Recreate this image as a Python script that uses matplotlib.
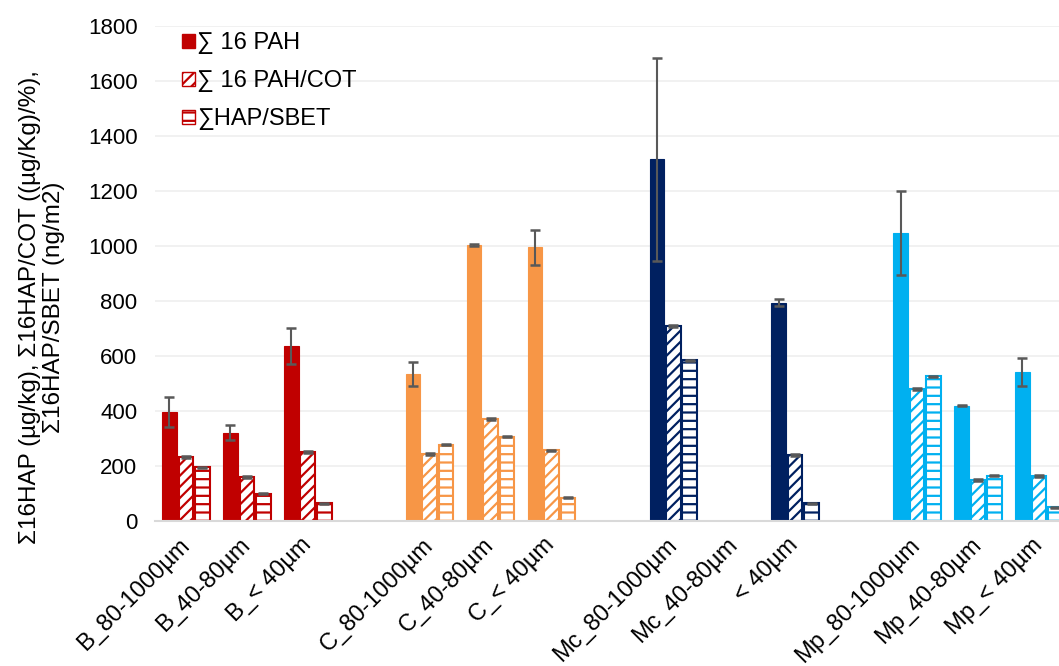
import matplotlib.pyplot as plt
import numpy as np
from matplotlib.patches import Patch

plt.rcParams['font.family'] = ['Liberation Sans', 'DejaVu Sans']
plt.rcParams['hatch.linewidth'] = 1.6

# categories (blank slots separate the sample groups)
categorias = ['B_80-1000µm', 'B_40-80µm', 'B_< 40µm', '',
              'C_80-1000µm', 'C_40-80µm', 'C_< 40µm', '',
              'Mc_80-1000µm', 'Mc_40-80µm', '< 40µm', '',
              'Mp_80-1000µm', 'Mp_40-80µm', 'Mp_< 40µm']
nan = np.nan
pah = [397, 321, 637, nan, 535, 1004, 995, nan, 1315, nan, 794, nan, 1046, 419, 541]
pah_err = [55, 28, 66, nan, 43, 3, 63, nan, 368, nan, 12, nan, 153, 2, 50]
pah_cot = [232, 160, 251, nan, 244, 370, 257, nan, 710, nan, 240, nan, 480, 149, 164]
pah_cot_err = [3, 3, 3, nan, 3, 3, 3, nan, 3, nan, 3, nan, 3, 3, 3]
hap_sbet = [195, 99, 65, nan, 278, 307, 85, nan, 585, nan, 64, nan, 527, 164, 50]
hap_sbet_err = [2, 2, 2, nan, 2, 2, 2, nan, 2, nan, 2, nan, 2, 2, 2]
cores = ['#C00000'] * 4 + ['#F79646'] * 4 + ['#002060'] * 4 + ['#00B0F0'] * 3

x = np.arange(len(categorias))
w = 0.24
d = 0.27
cor_erro = '#595959'

fig = plt.figure(figsize=(10.59, 6.66), dpi=100)
ax = fig.add_axes([0.1468, 0.2177, 0.8532, 0.7433])

ax.bar(x - d, pah, w, color=cores, edgecolor=cores, linewidth=0.8, zorder=2)
ax.bar(x, pah_cot, w, color='white', edgecolor=cores, hatch='///', linewidth=1.5, zorder=2)
ax.bar(x + d, hap_sbet, w, color='white', edgecolor=cores, hatch='--', linewidth=1.5, zorder=2)

for dx, v, e in [(-d, pah, pah_err), (0, pah_cot, pah_cot_err), (d, hap_sbet, hap_sbet_err)]:
    ax.errorbar(x + dx, v, yerr=e, fmt='none', ecolor=cor_erro, elinewidth=1.5,
                capsize=3.8, capthick=1.8, zorder=3)

# legenda
handles = [Patch(facecolor='#C00000', edgecolor='#C00000'),
           Patch(facecolor='white', edgecolor='#C00000', hatch='///'),
           Patch(facecolor='white', edgecolor='#C00000', hatch='--')]
ax.legend(handles, ['∑ 16 PAH', '∑ 16 PAH/COT', '∑HAP/SBET'], loc='upper left',
          bbox_to_anchor=(0.006, 1.03), frameon=False, fontsize=17,
          handlelength=0.55, handleheight=0.55, handletextpad=0.1, labelspacing=0.68)

ax.set_ylim(0, 1800)
ax.set_yticks(np.arange(0, 1801, 200))
ax.set_xlim(-0.5, 14.33)
ax.set_xticks(x)
ax.set_xticklabels(categorias, rotation=45, ha='right', va='center',
                   rotation_mode='anchor', fontsize=17)
ax.tick_params(axis='y', labelsize=16, length=0, pad=13)
ax.tick_params(axis='x', length=0, pad=15)
ax.grid(axis='y', color='#EFEFEF', linewidth=1.2, zorder=0)
ax.set_axisbelow(True)
for s in ['top', 'right', 'left']:
    ax.spines[s].set_visible(False)
ax.spines['bottom'].set_color('#D9D9D9')
ax.spines['bottom'].set_linewidth(1.5)

ax.set_ylabel('Σ16HAP (µg/kg), Σ16HAP/COT ((µg/Kg)/%),\nΣ16HAP/SBET (ng/m2)', fontsize=17.5,
              linespacing=1.1)
ax.yaxis.set_label_coords(-0.100, 0.432)

fig.savefig('out.png', dpi=100)
